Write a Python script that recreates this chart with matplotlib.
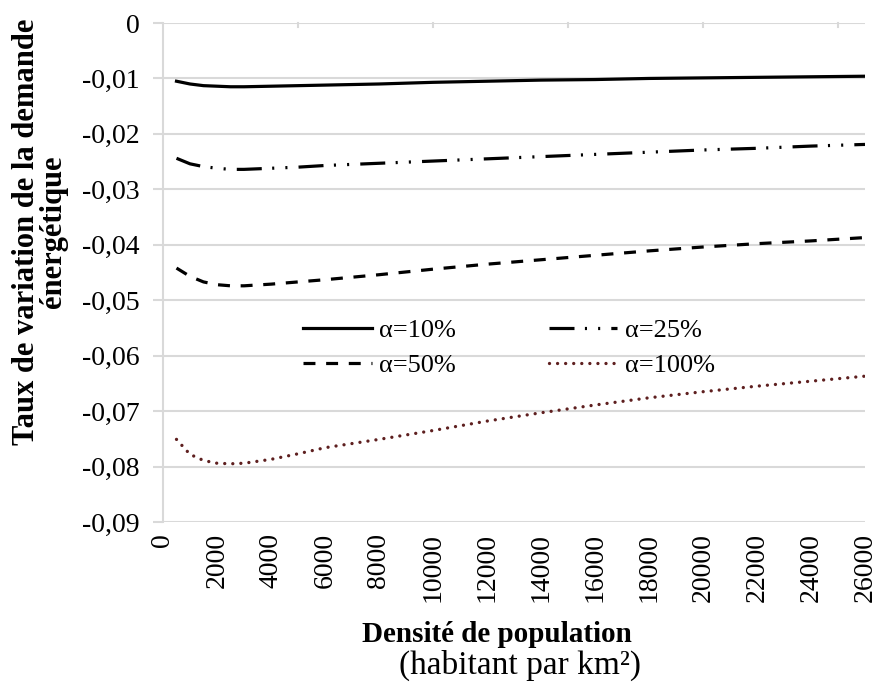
import numpy as np
import matplotlib
matplotlib.use('Agg')
import matplotlib.pyplot as plt

plt.rcParams['font.family'] = ['Liberation Serif', 'DejaVu Serif']
plt.rcParams['lines.scale_dashes'] = False

# density (habitants per km2)
density = [500, 1000, 1500, 2000, 2500, 3000, 4000, 5000, 6000, 8000, 10000,
           12000, 14000, 16000, 18000, 20000, 22000, 24000, 26000]

# rate of change of energy demand for each alpha
alpha_10 = [-0.0105, -0.0110, -0.0113, -0.0114, -0.0115, -0.0115, -0.0114, -0.0113,
            -0.0112, -0.0110, -0.0107, -0.0105, -0.0103, -0.0102, -0.0100,
            -0.0099, -0.0098, -0.0097, -0.0096]
alpha_25 = [-0.0244, -0.0254, -0.0259, -0.0262, -0.0264, -0.0264, -0.0262, -0.0260,
            -0.0257, -0.0253, -0.0249, -0.0245, -0.0241, -0.0237, -0.0233,
            -0.0229, -0.0226, -0.0222, -0.0219]
alpha_50 = [-0.0442, -0.0457, -0.0467, -0.0472, -0.0474, -0.0474, -0.0471, -0.0467,
            -0.0463, -0.0454, -0.0444, -0.0435, -0.0427, -0.0419, -0.0411,
            -0.0404, -0.0398, -0.0393, -0.0387]
alpha_100 = [-0.0751, -0.0778, -0.0789, -0.0794, -0.0795, -0.0794, -0.0787, -0.0777,
             -0.0766, -0.0751, -0.0735, -0.0718, -0.0703, -0.0689, -0.0676,
             -0.0665, -0.0655, -0.0646, -0.0637]

labels = ['α=10%', 'α=25%', 'α=50%', 'α=100%']

fig = plt.figure(figsize=(8.77, 6.82), dpi=100)
ax = fig.add_axes([163 / 877, 1 - 522 / 682, 702 / 877, 499 / 682])

grid_c = '#d9d9d9'
l10, = ax.plot(density, alpha_10, color='black', lw=2.3, label=labels[0])
l25, = ax.plot(density, alpha_25, color='black', lw=2.3, label=labels[1],
               linestyle=(0, (18, 7.5, 1.5, 8, 1.5, 8)))
l50, = ax.plot(density, alpha_50, color='black', lw=2.3, label=labels[2],
               linestyle=(0, (8.6, 7.7)))
l100, = ax.plot(density, alpha_100, color='#5e1f1f', lw=2.4, label=labels[3],
                linestyle=(0, (0.01, 5.8)), dash_capstyle='round')

ax.set_xlim(0, 26000)
ax.set_ylim(-0.09, 0)
ax.set_xticks(np.arange(0, 26001, 2000))
yvals = np.arange(-0.09, 0.0001, 0.01)
ax.set_yticks(yvals)
ax.set_yticklabels(['0' if abs(v) < 1e-9 else f'{v:.2f}'.replace('.', ',') for v in yvals])
ax.set_xticklabels([str(v) for v in range(0, 26001, 2000)], rotation=90)
ax.tick_params(axis='x', length=0, labelsize=20, pad=8)
ax.tick_params(axis='y', length=7, color=grid_c, width=1.5, labelsize=20, pad=10)

ax.grid(axis='y', color=grid_c, lw=1.5)
ax.set_axisbelow(True)
for s in ['top', 'right', 'bottom']:
    ax.spines[s].set_visible(False)
ax.spines['left'].set_color(grid_c)
ax.spines['left'].set_linewidth(1.5)

# small tick marks hanging from the zero line
for xv in range(5000, 26000, 5000):
    ax.plot([xv, xv], [0, -0.0008], color=grid_c, lw=1.5, clip_on=False)

# column-wise fill: 10% / 50% in column 1, 25% / 100% in column 2
ax.legend([l10, l50, l25, l100], [labels[0], labels[2], labels[1], labels[3]],
          ncol=2, loc='center', bbox_to_anchor=(0.493, 0.349), frameon=False,
          fontsize=19, handlelength=2.6, handletextpad=0.3,
          columnspacing=3.5, labelspacing=0.45)

fig.text(40 / 877, 1 - 232 / 682, 'Taux de variation de la demande\nénergétique', rotation=90,
         ha='center', va='center', fontsize=22, fontweight='bold', linespacing=0.95,
         multialignment='center')
fig.text(497 / 877, 1 - 635 / 682, 'Densité de population', ha='center', va='center',
         fontsize=21, fontweight='bold')
fig.text(520 / 877, 1 - 665 / 682, '(habitant par km²)', ha='center', va='center',
         fontsize=24)

fig.savefig('out.png', dpi=100)
